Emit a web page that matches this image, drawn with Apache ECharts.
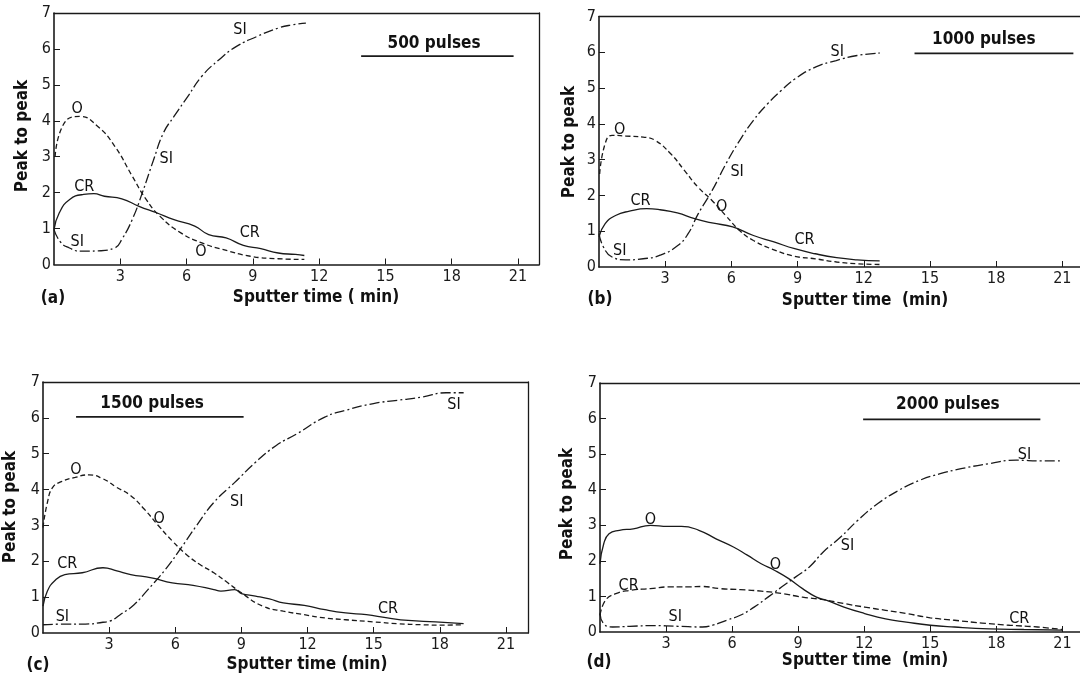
<!DOCTYPE html>
<html>
<head>
<meta charset="utf-8">
<script src="https://cdn.jsdelivr.net/npm/echarts@6/dist/echarts.min.js"></script>
<style>
html,body{margin:0;padding:0;background:#fff;}
#chart{width:1080px;height:680px;}
</style>
</head>
<body>
<div id="chart"></div>
<script>
// ---------- tick labels ----------
const xTickVals = [3, 6, 9, 12, 15, 18, 21];
const yTickVals = [1, 2, 3, 4, 5, 6];
const panelLetters = ['(a)', '(b)', '(c)', '(d)'];
const pulseTexts = ['500 pulses', '1000 pulses', '1500 pulses', '2000 pulses'];

// ---------- (a) 500 pulses ----------
const aSI_t = [0, 0.3, 0.7, 1.2, 2.0, 2.75, 3.07, 3.54, 4.0, 4.5, 4.95, 5.43, 6.06, 6.69, 7.47, 8.26, 9.2, 10.15, 10.78, 11.4];
const aSI_v = [0.97, 0.62, 0.46, 0.37, 0.38, 0.46, 0.7, 1.25, 2.0, 2.9, 3.66, 4.12, 4.68, 5.24, 5.7, 6.07, 6.35, 6.58, 6.67, 6.72];
const aO_t = [0.05, 0.47, 1.18, 1.97, 2.75, 3.54, 4.17, 4.8, 5.74, 6.69, 7.63, 8.89, 10.15, 11.33];
const aO_v = [3.0, 3.94, 4.12, 3.85, 3.29, 2.46, 1.81, 1.34, 0.88, 0.6, 0.42, 0.23, 0.16, 0.14];
const aCR_t = [0, 0.24, 0.71, 1.34, 1.81, 2.28, 3.07, 3.85, 4.64, 5.43, 6.37, 7.0, 7.79, 8.57, 9.36, 10.15, 10.93, 11.33];
const aCR_v = [0.97, 1.44, 1.81, 1.95, 1.97, 1.9, 1.83, 1.62, 1.44, 1.25, 1.07, 0.83, 0.74, 0.53, 0.44, 0.32, 0.28, 0.25];

// ---------- (b) 1000 pulses ----------
const bSI_t = [0, 0.2, 0.59, 1.22, 2.0, 2.77, 3.57, 4.04, 4.5, 5.13, 5.76, 6.38, 7.0, 7.64, 8.26, 8.89, 9.83, 10.75, 11.7, 12.72];
const bSI_v = [0.93, 0.56, 0.28, 0.2, 0.23, 0.33, 0.6, 0.93, 1.49, 2.14, 2.89, 3.54, 4.1, 4.56, 4.93, 5.26, 5.59, 5.77, 5.91, 5.98];
const bO_t = [0.03, 0.28, 0.59, 1.22, 2.0, 2.54, 3.24, 3.87, 4.49, 5.12, 5.74, 6.37, 7.0, 7.93, 8.87, 9.8, 10.77, 11.7, 12.72];
const bO_v = [2.6, 3.45, 3.68, 3.66, 3.63, 3.54, 3.17, 2.7, 2.23, 1.86, 1.44, 1.02, 0.74, 0.48, 0.3, 0.23, 0.14, 0.09, 0.07];
const bCR_t = [0, 0.28, 0.75, 1.38, 2.16, 2.77, 3.55, 4.33, 5.12, 6.06, 7.0, 7.93, 8.87, 9.8, 10.77, 11.7, 12.72];
const bCR_v = [0.84, 1.21, 1.44, 1.56, 1.63, 1.6, 1.51, 1.35, 1.23, 1.12, 0.88, 0.7, 0.51, 0.37, 0.26, 0.2, 0.17];

// ---------- (c) 1500 pulses ----------
const cSI_t = [0, 1.15, 1.93, 2.72, 3.03, 3.5, 4.13, 4.76, 5.55, 6.33, 6.96, 7.75, 8.7, 9.64, 10.58, 11.53, 12.78, 13.73, 14.99, 16.09, 17.19, 18.29, 19.08];
const cSI_v = [0.23, 0.25, 0.25, 0.3, 0.33, 0.51, 0.79, 1.21, 1.77, 2.43, 2.99, 3.64, 4.2, 4.76, 5.23, 5.56, 6.02, 6.21, 6.4, 6.49, 6.58, 6.7, 6.7];
const cO_t = [0, 0.2, 0.44, 0.83, 1.46, 2.09, 2.72, 3.35, 3.98, 4.6, 5.24, 5.86, 6.5, 7.12, 7.75, 8.38, 9.0, 9.96, 10.9, 11.85, 12.79, 13.73, 14.99, 16.09, 17.19, 18.14, 19.08];
const cO_v = [2.94, 3.64, 4.06, 4.22, 4.34, 4.41, 4.3, 4.06, 3.83, 3.45, 2.99, 2.57, 2.19, 1.91, 1.68, 1.4, 1.12, 0.75, 0.61, 0.51, 0.42, 0.37, 0.31, 0.26, 0.23, 0.22, 0.23];
const cCR_t = [0, 0.2, 0.52, 0.99, 1.78, 2.72, 3.35, 3.98, 4.92, 5.86, 6.81, 7.75, 8.07, 8.7, 9.0, 9.64, 10.27, 10.9, 11.85, 12.79, 13.73, 14.67, 15.62, 16.56, 17.81, 19.08];
const cCR_v = [0.75, 1.17, 1.45, 1.63, 1.68, 1.82, 1.73, 1.63, 1.54, 1.4, 1.33, 1.21, 1.17, 1.21, 1.1, 1.03, 0.95, 0.84, 0.77, 0.65, 0.56, 0.51, 0.42, 0.35, 0.31, 0.26];

// ---------- (d) 2000 pulses ----------
const dSI_t = [0, 0.17, 0.57, 1.35, 2.45, 3.55, 4.65, 5.12, 5.75, 6.37, 7.0, 7.63, 8.26, 8.89, 9.51, 10.14, 10.93, 11.71, 12.62, 13.56, 14.5, 15.45, 16.4, 17.64, 18.9, 20.0, 21.0];
const dSI_v = [0.52, 0.23, 0.14, 0.16, 0.18, 0.16, 0.14, 0.19, 0.33, 0.47, 0.7, 0.98, 1.27, 1.55, 1.83, 2.25, 2.67, 3.14, 3.61, 3.98, 4.26, 4.45, 4.59, 4.73, 4.83, 4.81, 4.81];
const dO_t = [0, 0.17, 0.41, 0.88, 1.51, 2.29, 3.08, 3.7, 4.49, 5.27, 6.06, 6.69, 7.32, 7.94, 8.57, 9.2, 9.83, 10.3, 11.08, 12.02, 12.97, 13.91, 15.0, 16.1, 17.68, 19.25, 21.0];
const dO_v = [1.92, 2.48, 2.76, 2.86, 2.9, 3.0, 2.97, 2.97, 2.86, 2.62, 2.39, 2.16, 1.92, 1.73, 1.5, 1.22, 0.98, 0.89, 0.7, 0.52, 0.37, 0.28, 0.19, 0.14, 0.09, 0.07, 0.05];
const dCR_t = [0, 0.25, 0.72, 1.35, 2.29, 3.23, 4.02, 4.65, 5.43, 6.37, 7.32, 8.26, 9.2, 10.14, 11.08, 12.02, 12.97, 13.91, 15.0, 16.1, 17.35, 18.6, 19.87, 21.0];
const dCR_v = [0.47, 0.89, 1.08, 1.17, 1.22, 1.27, 1.27, 1.28, 1.22, 1.19, 1.15, 1.08, 0.98, 0.91, 0.8, 0.7, 0.61, 0.52, 0.4, 0.33, 0.25, 0.19, 0.14, 0.07];

// ---------- curve annotations (text, time, value) ----------
const aNote_txt = ['SI', 'SI', 'SI', 'O', 'O', 'CR', 'CR'];
const aNote_t = [8.42, 5.08, 1.05, 1.05, 6.65, 1.37, 8.86];
const aNote_v = [6.53, 2.94, 0.62, 4.33, 0.34, 2.15, 0.88];
const bNote_txt = ['SI', 'SI', 'SI', 'O', 'O', 'CR', 'CR'];
const bNote_t = [10.8, 6.26, 0.94, 0.94, 5.56, 1.88, 9.31];
const bNote_v = [6.02, 2.65, 0.45, 3.82, 1.69, 1.86, 0.76];
const cNote_txt = ['SI', 'SI', 'SI', 'O', 'O', 'CR', 'CR'];
const cNote_t = [18.64, 8.79, 0.88, 1.49, 5.27, 1.1, 15.65];
const cNote_v = [6.37, 3.66, 0.45, 4.56, 3.19, 1.94, 0.67];
const dNote_txt = ['SI', 'SI', 'SI', 'O', 'O', 'CR', 'CR'];
const dNote_t = [19.28, 11.24, 3.42, 2.29, 7.97, 1.3, 19.04];
const dNote_v = [4.97, 2.42, 0.42, 3.14, 1.9, 1.31, 0.37];

// pulse legend bars: [start, end] time, value level, text position
const pulseBarStart = [13.9, 14.3, 1.5, 11.95];
const pulseBarEnd = [20.8, 21.5, 9.1, 20.0];
const pulseBarLevel = [5.8, 5.97, 6.03, 5.98];
const pulseTextT = [17.2, 17.44, 4.95, 15.8];
const pulseTextV = [6.16, 6.36, 6.41, 6.38];

// ---------- layout / style ----------
const grids = [
  {left: 54, top: 13, width: 485, height: 251.5},
  {left: 599, top: 16.5, width: 483, height: 250.5},
  {left: 43, top: 382, width: 485, height: 251},
  {left: 600, top: 383, width: 483, height: 249}
];
const xMaxes = [21.95, 21.8, 22.0, 21.8];
const INK = '#1a1a1a';
const thinFont = '"Liberation Sans Narrow", "DejaVu Sans Condensed", sans-serif';
const boldFont = '"DejaVu Sans Condensed", "DejaVu Sans", sans-serif';
const DASH_DOT = [10, 3, 2, 3];
const DASH = [5, 3];

const pairs = (t, v) => t.map((x, i) => [x, v[i]]);
const panels = [
  {SI: pairs(aSI_t, aSI_v), O: pairs(aO_t, aO_v), CR: pairs(aCR_t, aCR_v), notes: [aNote_txt, aNote_t, aNote_v], oDash: DASH, crDash: 'solid'},
  {SI: pairs(bSI_t, bSI_v), O: pairs(bO_t, bO_v), CR: pairs(bCR_t, bCR_v), notes: [bNote_txt, bNote_t, bNote_v], oDash: DASH, crDash: 'solid'},
  {SI: pairs(cSI_t, cSI_v), O: pairs(cO_t, cO_v), CR: pairs(cCR_t, cCR_v), notes: [cNote_txt, cNote_t, cNote_v], oDash: DASH, crDash: 'solid'},
  {SI: pairs(dSI_t, dSI_v), O: pairs(dO_t, dO_v), CR: pairs(dCR_t, dCR_v), notes: [dNote_txt, dNote_t, dNote_v], oDash: 'solid', crDash: [6, 3]}
];

const xAxes = [], yAxes = [], series = [];
grids.forEach((g, i) => {
  xAxes.push({
    type: 'value', gridIndex: i, min: 0, max: xMaxes[i], position: 'bottom',
    axisLine: {show: true, lineStyle: {color: INK, width: 1.6}},
    axisTick: {show: true, inside: true, length: 6, customValues: xTickVals, lineStyle: {color: INK, width: 1}},
    axisLabel: {show: true, customValues: xTickVals, margin: 4, color: '#1a1a1a', fontFamily: thinFont, fontSize: 16},
    splitLine: {show: false}
  });
  xAxes.push({
    type: 'value', gridIndex: i, min: 0, max: xMaxes[i], position: 'top',
    axisLine: {show: true, onZero: false, lineStyle: {color: INK, width: 1.3}},
    axisTick: {show: false}, axisLabel: {show: false}, splitLine: {show: false}
  });
  yAxes.push({
    type: 'value', gridIndex: i, min: 0, max: 7, interval: 1, position: 'left',
    axisLine: {show: true, onZero: false, lineStyle: {color: INK, width: 1.6}},
    axisTick: {show: true, inside: true, length: 6, customValues: yTickVals, lineStyle: {color: INK, width: 1}},
    axisLabel: {show: true, margin: 3, color: '#1a1a1a', fontFamily: thinFont, fontSize: 16},
    splitLine: {show: false}
  });
  yAxes.push({
    type: 'value', gridIndex: i, min: 0, max: 7, position: 'right',
    axisLine: {show: i === 0 || i === 2, onZero: false, lineStyle: {color: INK, width: 1.3}},
    axisTick: {show: false}, axisLabel: {show: false}, splitLine: {show: false}
  });
  const p = panels[i];
  const xi = i * 2, yi = i * 2;
  const lineBase = (name, data, type) => ({
    name, type: 'line', xAxisIndex: xi, yAxisIndex: yi, data,
    showSymbol: false, symbol: 'none', smooth: 0.5,
    lineStyle: {color: INK, width: 1.3, type}, silent: true, animation: false, z: 3
  });
  series.push(lineBase('SI', p.SI, DASH_DOT));
  series.push(lineBase('O', p.O, p.oDash));
  series.push(lineBase('CR', p.CR, p.crDash));
  // curve name annotations
  const [txt, tt, vv] = p.notes;
  series.push({
    type: 'scatter', xAxisIndex: xi, yAxisIndex: yi, symbolSize: 0, silent: true, animation: false,
    itemStyle: {opacity: 1},
    data: txt.map((s, k) => ({name: s, value: [tt[k], vv[k]]})),
    label: {show: true, position: 'inside', formatter: '{b}', color: '#111', opacity: 1, fontFamily: thinFont, fontSize: 16}
  });
  // pulse bar
  series.push({
    type: 'line', xAxisIndex: xi, yAxisIndex: yi, showSymbol: false, symbol: 'none', silent: true, animation: false,
    data: [[pulseBarStart[i], pulseBarLevel[i]], [pulseBarEnd[i], pulseBarLevel[i]]],
    lineStyle: {color: INK, width: 1.8}
  });
  series.push({
    type: 'scatter', xAxisIndex: xi, yAxisIndex: yi, symbolSize: 0, silent: true, animation: false,
    itemStyle: {opacity: 1},
    data: [{name: pulseTexts[i], value: [pulseTextT[i], pulseTextV[i]]}],
    label: {show: true, position: 'inside', formatter: '{b}', color: '#111', opacity: 1, fontFamily: boldFont, fontWeight: 'bold', fontSize: 17}
  });
});

// axis titles & panel letters (layout text)
const xTitles = ['Sputter time ( min)', 'Sputter time  (min)', 'Sputter time (min)', 'Sputter time  (min)'];
const xTitlePos = [[316, 298], [865, 301], [307, 665], [865, 661]];
const yTitlePos = [[23, 136], [570, 142], [11, 507], [568, 504]];
const letterPos = [[53, 299], [600, 300], [38, 666], [599, 663]];
const graphics = [];
for (let i = 0; i < 4; i++) {
  graphics.push({type: 'text', x: xTitlePos[i][0], y: xTitlePos[i][1],
    style: {text: xTitles[i], textAlign: 'center', textVerticalAlign: 'middle', fill: '#111',
      font: 'bold 17px ' + boldFont}});
  graphics.push({type: 'text', x: yTitlePos[i][0], y: yTitlePos[i][1], rotation: Math.PI / 2,
    style: {text: 'Peak to peak', textAlign: 'center', textVerticalAlign: 'middle', fill: '#111',
      font: 'bold 17px ' + boldFont}});
  graphics.push({type: 'text', x: letterPos[i][0], y: letterPos[i][1],
    style: {text: panelLetters[i], textAlign: 'center', textVerticalAlign: 'middle', fill: '#111',
      font: 'bold 17px ' + boldFont}});
}

const chart = echarts.init(document.getElementById('chart'), null, {renderer: 'canvas'});
chart.setOption({
  backgroundColor: '#ffffff',
  animation: false,
  grid: grids,
  xAxis: xAxes,
  yAxis: yAxes,
  series: series,
  graphic: graphics
});
</script>
</body>
</html>
